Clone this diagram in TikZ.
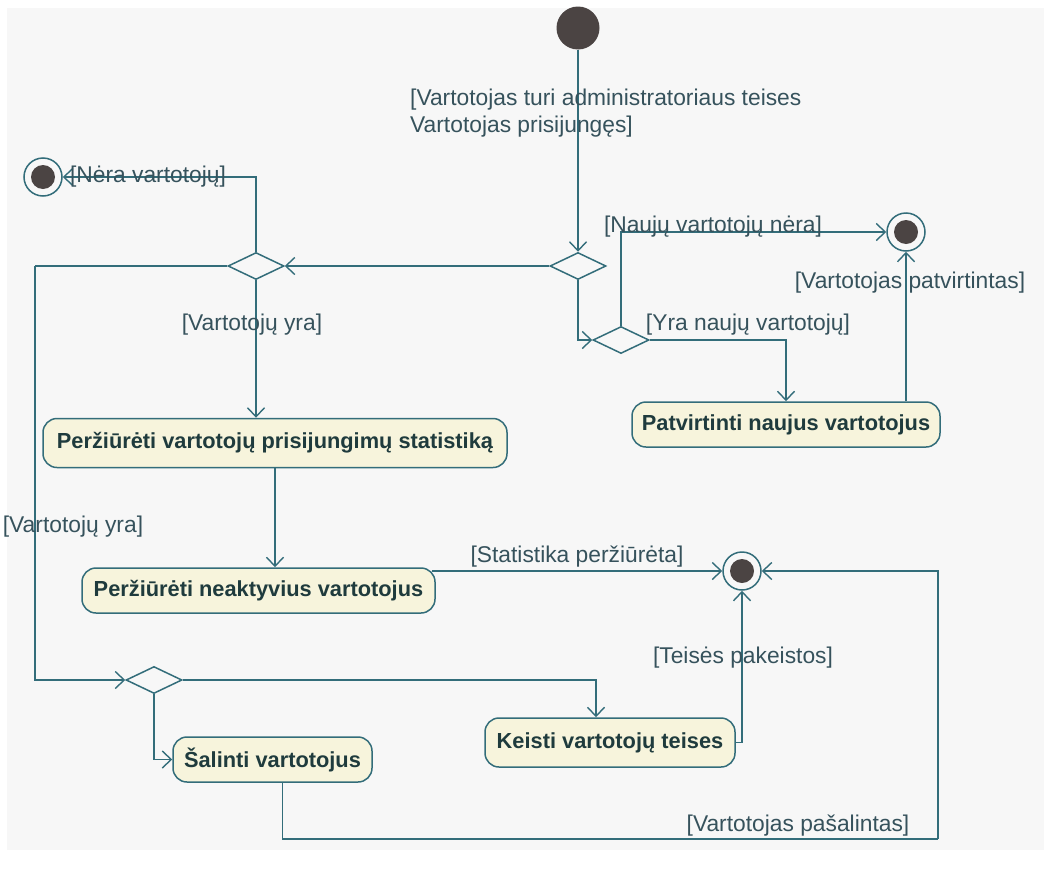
\documentclass[tikz,border=0pt]{standalone}
\usepackage{fontspec}
\setmainfont{Liberation Sans}
\usetikzlibrary{shapes.geometric,arrows.meta}
\definecolor{bgc}{HTML}{F7F7F7}
\definecolor{linec}{HTML}{336D7A}
\definecolor{labelc}{HTML}{36525C}
\definecolor{actfill}{HTML}{F7F4DC}
\definecolor{acttext}{HTML}{1F3B3D}
\definecolor{dot}{HTML}{4B4443}
\tikzset{
  flow/.style={draw=linec, line width=1.5pt, -{Straight Barb[length=9pt,width=17pt,line width=1.4pt]}},
  action/.style={draw=linec, line width=1.5pt, fill=actfill, rounded corners=14pt,
    text=acttext, font=\fontsize{21.8}{26}\selectfont\bfseries, inner sep=0pt},
  decision/.style={diamond, draw=linec, line width=1.5pt, fill=bgc, inner sep=0pt,
    minimum width=56pt, minimum height=27pt},
  initial/.style={circle, fill=dot, minimum size=43pt, inner sep=0pt},
  final/.style={circle, draw=linec, line width=1.5pt, fill=bgc, minimum size=38pt, inner sep=0pt,
    path picture={\fill[dot] (path picture bounding box.center) circle (12pt);}},
  guard/.style={text=labelc, font=\fontsize{22.8}{27}\selectfont, inner sep=0pt, align=left}
}
\begin{document}
\begin{tikzpicture}[x=1pt,y=-1pt]
\useasboundingbox (0,0) rectangle (1051,870);
\fill[white] (0,0) rectangle (1051,870);
\fill[bgc] (7,8) rectangle (1044,850);

% nodes
\node[initial] (init) at (578,28) {};
\node[decision] (d1) at (578,266) {};
\node[decision] (d2) at (256,266) {};
\node[decision] (d3) at (621,340) {};
\node[decision] (d4) at (154,680) {};
\node[final] (f1) at (43,177) {};
\node[final] (f2) at (906,232) {};
\node[final] (f3) at (742,571) {};

\node[action, minimum width=464pt, minimum height=49pt] (a1) at (275,443) {Peržiūrėti vartotojų prisijungimų statistiką};
\node[action, minimum width=353pt, minimum height=45pt] (a2) at (258.5,590.5) {Peržiūrėti neaktyvius vartotojus};
\node[action, minimum width=308pt, minimum height=45pt] (a3) at (786,424.5) {Patvirtinti naujus vartotojus};
\node[action, minimum width=250pt, minimum height=49pt] (a4) at (610,742.5) {Keisti vartotojų teises};
\node[action, minimum width=199pt, minimum height=45pt] (a5) at (272.5,759.5) {Šalinti vartotojus};

\coordinate (c1) at (35,266);
\coordinate (c2) at (938,839);

% connectors
\draw[flow] (init) -- (d1.north);
\draw[flow] (d1.west) -- (d2.east);
\draw[flow] (d2.north) |- (f1.east);
\draw[flow] (d2.south) -- (d2.south |- a1.north);
\draw[flow, -] (d2.west) -- (c1);
\draw[flow] (c1) |- (d4.west);
\draw[flow] (a1.south) -- (a1.south |- a2.north);
\draw[flow] ([xshift=-4pt]a2.east |- f3.west) -- (f3.west);
\draw[flow] (d1.south) |- (d3.west);
\draw[flow] (d3.north) |- (f2.west);
\draw[flow] (d3.east) -| (a3.north);
\draw[flow] (a3.north -| f2.south) -- (f2.south);
\draw[flow] (d4.east) -| ([xshift=-14pt]a4.north);
\draw[flow] (d4.south) |- (a5.west);
\draw[flow] (a4.east) -| (f3.south);
\draw[flow, -] ([xshift=10pt]a5.south) |- (c2);
\draw[flow] (c2) |- (f3.east);

% guards
\node[guard, anchor=west] (g0) at (410,113.5) {[Vartotojas turi administratoriaus teises\\Vartotojas prisijungęs]};
\node[guard] (g1) at (148,177) {[Nėra vartotojų]};
\node[guard] (g2) at (252,325) {[Vartotojų yra]};
\node[guard] (g3) at (73,527) {[Vartotojų yra]};
\node[guard] (g4) at (713,227) {[Naujų vartotojų nėra]};
\node[guard] (g5) at (748,325) {[Yra naujų vartotojų]};
\node[guard] (g6) at (910,283) {[Vartotojas patvirtintas]};
\node[guard] (g7) at (577,557) {[Statistika peržiūrėta]};
\node[guard] (g8) at (743,658) {[Teisės pakeistos]};
\node[guard] (g9) at (798,826) {[Vartotojas pašalintas]};
\end{tikzpicture}
\end{document}
